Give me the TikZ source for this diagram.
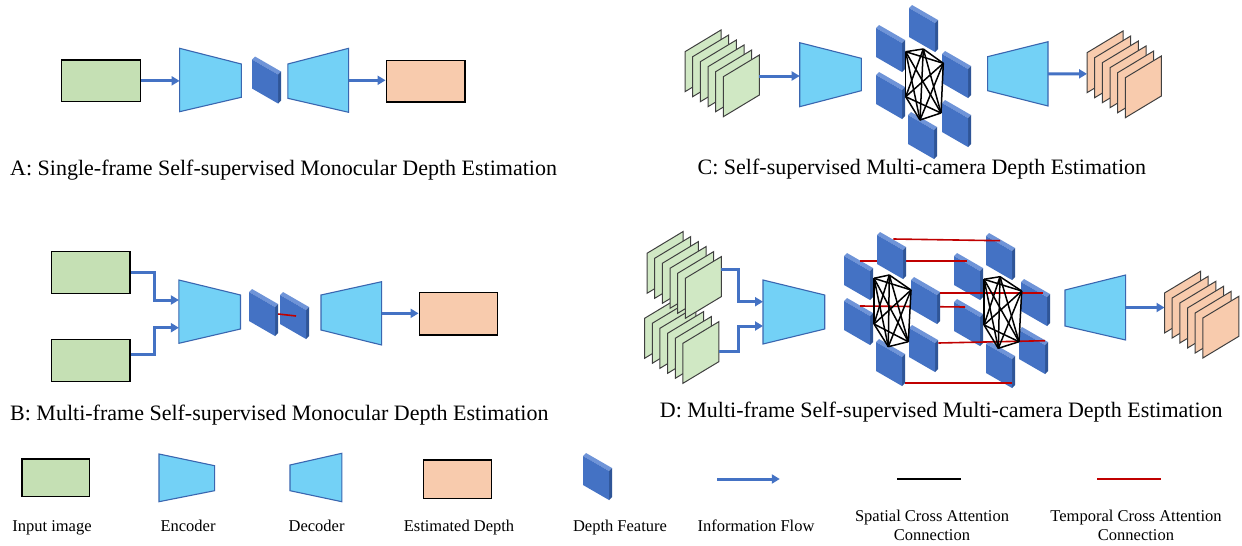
\documentclass[tikz,border=0pt]{standalone}
\usepackage{fontspec}
\setmainfont{Liberation Serif}
\usetikzlibrary{arrows.meta,calc}
\definecolor{ingreen}{HTML}{C5E0B4}
\definecolor{sheetgreen}{HTML}{D0E8C4}
\definecolor{outorange}{HTML}{F8CBAD}
\definecolor{codec}{HTML}{73D1F6}
\definecolor{codecedge}{HTML}{3A66B0}
\definecolor{flowblue}{HTML}{4472C4}
\definecolor{fface}{HTML}{4472C4}
\definecolor{fside}{HTML}{2F5597}
\definecolor{ftop}{HTML}{6F94D8}
\definecolor{tempred}{HTML}{C00000}
\definecolor{sheetedge}{HTML}{404040}
\tikzset{
  inimg/.style={draw=black, line width=1.5pt, fill=ingreen, inner sep=0pt},
  outimg/.style={draw=black, line width=1.5pt, fill=outorange, inner sep=0pt},
  trapst/.style={draw=codecedge, line width=1.1pt, fill=codec, line join=miter},
  flow/.style={draw=flowblue, line width=3pt, line join=miter, -{Triangle[length=8pt,width=9pt]}},
  spat/.style={draw=black, line width=1.5pt},
  temp/.style={draw=tempred, line width=1.6pt},
  gsheet/.style={draw=sheetedge, line width=1pt, fill=sheetgreen},
  osheet/.style={draw=sheetedge, line width=1pt, fill=outorange},
  captext/.style={font=\fontsize{22}{26}\selectfont, inner sep=0pt},
  legtext/.style={font=\fontsize{16.5}{19}\selectfont, inner sep=0pt},
}
\newcommand{\trap}[7]{%
  \draw[trapst] ({#2},{#3}) -- ({#5},{#6}) -- ({#5},{#7}) -- ({#2},{#4}) -- cycle;
  \coordinate (#1-w) at ({#2},{(#3+#4)/2});
  \coordinate (#1-e) at ({#5},{(#6+#7)/2});
}
\newcommand{\dfeat}[2]{%
  \fill[ftop] ({#1},{#2+3}) -- ({#1+3},{#2}) -- ({#1+29},{#2+15}) -- ({#1+26},{#2+18}) -- cycle;
  \fill[fside] ({#1+26},{#2+18}) -- ({#1+29},{#2+15}) -- ({#1+29},{#2+44}) -- ({#1+26},{#2+47}) -- cycle;
  \fill[fface] ({#1},{#2+3}) -- ({#1+26},{#2+18}) -- ({#1+26},{#2+47}) -- ({#1},{#2+32}) -- cycle;
}
\newcommand{\sheet}[3]{%
  \draw[#3] ({#1},{#2}) -- ({#1+36},{#2-21.7}) -- ({#1+36},{#2+18.3}) -- ({#1},{#2+40}) -- cycle;
}
\newcommand{\stackof}[3]{%
  \foreach \i in {0,...,5}{\sheet{#1+7.67*\i}{#2+5*\i}{#3}}
}
\begin{document}
\begin{tikzpicture}[x=1pt,y=-1pt]
\fill[white] (0,0) rectangle (1242,546);
\useasboundingbox (0,0) rectangle (1242,546);

% ================= Panel A =================
\node[inimg, minimum width=78.7pt, minimum height=41.7pt] (gA) at (101,80.85) {};
\trap{encA}{179.6}{48.3}{111.7}{241.3}{64}{97.3}
\dfeat{252}{56.5}
\trap{decA}{287.8}{64}{98.3}{348.6}{48.3}{112.3}
\node[outimg, minimum width=78.7pt, minimum height=41.7pt] (oA) at (425.65,81.15) {};
\draw[flow] (gA.east) -- (gA.east -| encA-w);
\draw[flow] (decA-e) -- (decA-e -| oA.west);
\node[captext, anchor=base west] (capA) at (10,175) {A: Single-frame Self-supervised Monocular Depth Estimation};

% ================= Panel B =================
\node[inimg, minimum width=78.3pt, minimum height=41.6pt] (gB1) at (90.85,272.5) {};
\node[inimg, minimum width=78.3pt, minimum height=42.4pt] (gB2) at (90.85,360.5) {};
\trap{encB}{178.9}{280}{343.3}{240.5}{295}{329}
\coordinate (encB-in1) at (178.9,300);
\coordinate (encB-in2) at (178.9,327.7);
\draw[flow] (gB1.east) -- ++(24,0) |- (encB-in1);
\draw[flow] ([yshift=6.5pt]gB2.east) -- ++(24,0) |- (encB-in2);
\dfeat{249}{289}
\dfeat{280}{292}
\coordinate (tB1) at (278.2,314);
\coordinate (tB2) at (296,316);
\draw[temp] (tB1) -- (tB2);
\trap{decB}{321}{295}{330}{381.6}{281.7}{345}
\node[outimg, minimum width=78.3pt, minimum height=42.3pt] (oB) at (458.45,313.85) {};
\draw[flow] (decB-e) -- (decB-e -| oB.west);
\node[captext, anchor=base west] (capB) at (10,420) {B: Multi-frame Self-supervised Monocular Depth Estimation};

% ================= Panel C =================
\stackof{685}{51.7}{gsheet}
\coordinate (gC-out) at (759.3,76);
\trap{encC}{799.7}{42.7}{106.7}{861.3}{58.3}{90.7}
\draw[flow] (gC-out) -- (gC-out -| encC-w);
\dfeat{909}{5}
\dfeat{876}{25}
\dfeat{942}{51}
\dfeat{876}{72}
\dfeat{942}{100}
\dfeat{908}{112}
\coordinate (sC1) at (905.7,51.7);
\coordinate (sC2) at (923.3,49);
\coordinate (sC3) at (943.3,63.3);
\coordinate (sC4) at (941,113);
\coordinate (sC5) at (920,120);
\coordinate (sC6) at (905.7,96.7);
\foreach \a/\b in {1/2,1/3,1/4,1/5,1/6,2/3,2/4,2/5,2/6,3/4,3/5,3/6,4/5,4/6,5/6}
  {\draw[spat] (sC\a) -- (sC\b);}
\trap{decC}{987.6}{56.7}{90.7}{1048}{41.7}{106}
\stackof{1087}{52.7}{osheet}
\coordinate (oC-in) at (1087,73.85);
\draw[flow] (decC-e) -- (oC-in);
\node[captext, anchor=base west] (capC) at (697.5,174) {C: Self-supervised Multi-camera Depth Estimation};

% ================= Panel D =================
\stackof{644.6}{318.3}{gsheet}
\stackof{647}{253.3}{gsheet}
\coordinate (gD1-out) at (721.4,269.3);
\coordinate (gD2-out) at (719.4,351);
\trap{encD}{763}{280}{344}{824.7}{295}{329}
\coordinate (encD-in1) at (763,301.7);
\coordinate (encD-in2) at (763,326);
\draw[flow] (gD1-out) -- ++(16.6,0) |- (encD-in1);
\draw[flow] (gD2-out) -- ++(18.6,0) |- (encD-in2);
% features (cluster 2 and part of cluster 1)
\dfeat{844}{253}
\dfeat{844}{298}
\dfeat{909}{325}
\dfeat{876}{339}
\dfeat{986}{233}
\dfeat{954}{253}
\dfeat{1021}{279}
\dfeat{954}{299}
\dfeat{1019}{327}
\dfeat{986}{341}
% temporal lines passing behind
\coordinate (tUL1) at (860,261);   \coordinate (tUL2) at (966.7,261);
\coordinate (tLL1) at (860,306);   \coordinate (tLL2) at (965,307);
\draw[temp] (tUL1) -- (tUL2);
\draw[temp] (tLL1) -- (tLL2);
\dfeat{877}{232}
\dfeat{911}{277}
% remaining temporal lines
\coordinate (tT1) at (893.3,239);  \coordinate (tT2) at (1000,240.7);
\coordinate (tUR1) at (940,292.7); \coordinate (tUR2) at (1043,292.7);
\coordinate (tLR1) at (938.3,343); \coordinate (tLR2) at (1045,340.7);
\coordinate (tB1D) at (905,382.7); \coordinate (tB2D) at (1011.7,382.7);
\draw[temp] (tT1) -- (tT2);
\draw[temp] (tUR1) -- (tUR2);
\draw[temp] (tLR1) -- (tLR2);
\draw[temp] (tB1D) -- (tB2D);
% spatial lines
\coordinate (sD1) at (874,278.3);
\coordinate (sD2) at (889.3,275);
\coordinate (sD3) at (911,290);
\coordinate (sD4) at (908.3,341.7);
\coordinate (sD5) at (888.3,346.7);
\coordinate (sD6) at (874,324);
\coordinate (sE1) at (984,279.3);
\coordinate (sE2) at (1000,276.7);
\coordinate (sE3) at (1021.7,291);
\coordinate (sE4) at (1019,341.7);
\coordinate (sE5) at (998.3,348.3);
\coordinate (sE6) at (984,325);
\foreach \a/\b in {1/2,1/3,1/4,1/5,1/6,2/3,2/4,2/5,2/6,3/4,3/5,3/6,4/5,4/6,5/6}
  {\draw[spat] (sD\a) -- (sD\b); \draw[spat] (sE\a) -- (sE\b);}
\trap{decD}{1065}{290}{326}{1125.6}{275}{340}
\stackof{1164.5}{293}{osheet}
\coordinate (oD-in) at (1164.5,307.5);
\draw[flow] (decD-e) -- (oD-in);
\node[captext, anchor=base west] (capD) at (659.7,417) {D: Multi-frame Self-supervised Multi-camera Depth Estimation};

% ================= Legend =================
\node[inimg, minimum width=67.5pt, minimum height=37.7pt] (gL) at (55.65,477.85) {};
\trap{encL}{159}{454}{501.7}{214.6}{465.7}{490.7}
\trap{decL}{290}{465}{490.7}{341.8}{453.3}{501.7}
\node[outimg, minimum width=68.4pt, minimum height=38.3pt] (oL) at (457.5,479.15) {};
\dfeat{583}{453}
\coordinate (flA) at (717.4,479); \coordinate (flB) at (779.8,479);
\draw[flow] (flA) -- (flB);
\coordinate (spA) at (897,479); \coordinate (spB) at (960.6,479);
\draw[spat, line width=2pt] (spA) -- (spB);
\coordinate (tpA) at (1097,479); \coordinate (tpB) at (1160.5,479);
\draw[temp, line width=2pt] (tpA) -- (tpB);

\node[legtext, anchor=base] (lb1) at (52,531.7) {Input image};
\node[legtext, anchor=base] (lb2) at (188,531.7) {Encoder};
\node[legtext, anchor=base] (lb3) at (316.6,531.7) {Decoder};
\node[legtext, anchor=base] (lb4) at (459,531.7) {Estimated Depth};
\node[legtext, anchor=base] (lb5) at (620,531.7) {Depth Feature};
\node[legtext, anchor=base] (lb6) at (756,531.7) {Information Flow};
\node[legtext, anchor=base] (lb7a) at (932,521.7) {Spatial Cross Attention};
\node[legtext, anchor=base] (lb7b) at (932,540) {Connection};
\node[legtext, anchor=base] (lb8a) at (1136,521.7) {Temporal Cross Attention};
\node[legtext, anchor=base] (lb8b) at (1136,540) {Connection};
\end{tikzpicture}
\end{document}
